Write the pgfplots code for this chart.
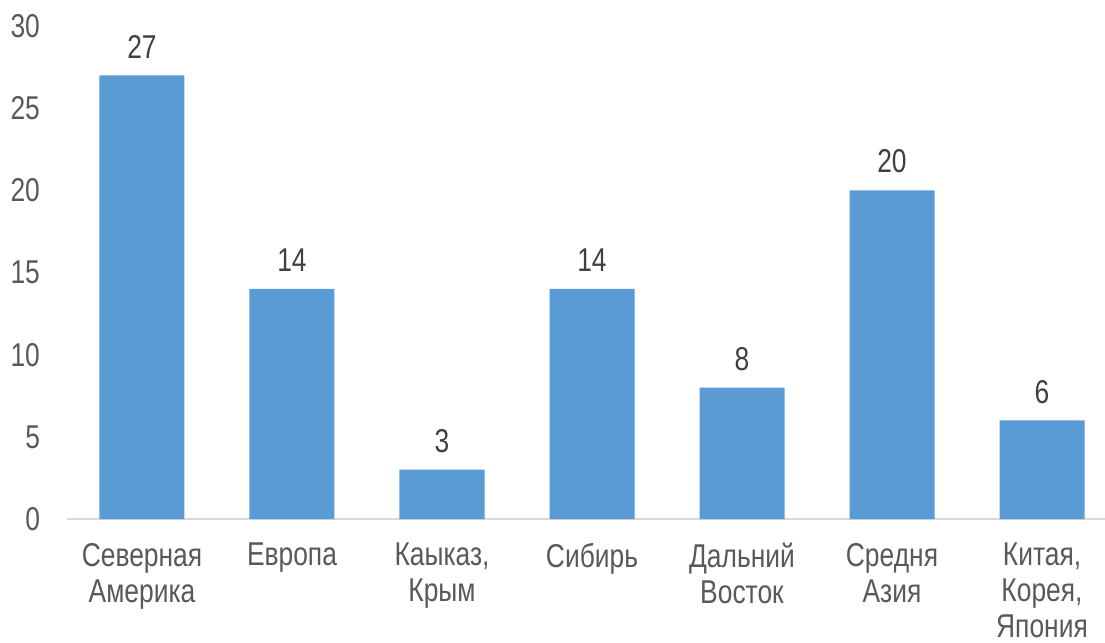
\documentclass[border=0pt]{standalone}
\usepackage{fontspec}
\setmainfont[FakeStretch=0.8]{Liberation Sans}
\usepackage{pgfplots}
\pgfplotsset{compat=1.18}
\definecolor{barblue}{HTML}{5B9BD5}
\definecolor{ticktxt}{HTML}{595959}
\definecolor{lbltxt}{HTML}{404040}
\definecolor{baseln}{HTML}{D9D9D9}
\begin{document}
\begin{tikzpicture}
\begin{axis}[
  at={(0,0)}, anchor=south west,
  scale only axis,
  width=519pt, height=246.5pt,
  xmin=-0.5, xmax=6.42,
  ymin=0, ymax=30,
  ytick={0,5,...,30},
  xtick={0,...,6},
  xticklabels={{Северная\\Америка}, {Европа}, {Каыказ,\\Крым}, {Сибирь}, {Дальний\\Восток}, {Средня\\Азия}, {Китая,\\Корея,\\Япония}},
  major tick length=0pt,
  separate axis lines,
  axis x line*=bottom,
  axis y line*=left,
  x axis line style={draw=baseln, line width=0.75pt},
  y axis line style={draw=none},
  font=\fontsize{16.5}{18}\selectfont,
  tick label style={text=ticktxt, font=\fontsize{16.5}{18}\selectfont},
  /pgf/number format/assume math mode=true,
  xticklabel style={align=center, anchor=north, yshift=-8.5pt},
  yticklabel style={xshift=-10pt},
  clip=false,
  nodes near coords,
  every node near coord/.append style={text=lbltxt, yshift=5pt, font=\fontsize{16.5}{18}\selectfont},
]
\addplot[ybar, bar width=42.5pt, fill=barblue, draw=none] coordinates {
  (0,27) (1,14) (2,3) (3,14) (4,8) (5,20) (6,6)
};
\end{axis}
\pgfresetboundingbox
\path[use as bounding box] (-33.5pt,-62pt) rectangle (519pt,259.5pt);
\end{tikzpicture}
\end{document}
